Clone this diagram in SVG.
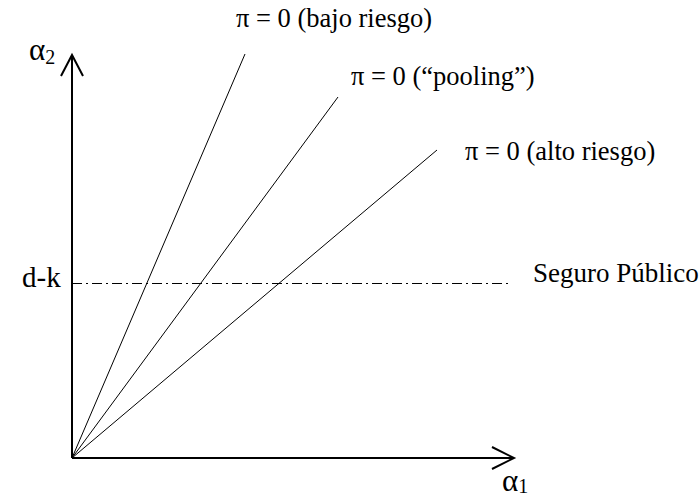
<svg xmlns="http://www.w3.org/2000/svg" width="699" height="498" viewBox="0 0 699 498">
<style>
.t{font-family:"Liberation Serif","Times New Roman",serif;font-size:26.5px;fill:#000}
.a{font-size:31px}
.s{font-size:20px}
.ax{stroke:#000;stroke-width:2;fill:none}
.ln{stroke:#000;stroke-width:1;fill:none}
.dd{stroke:#000;stroke-width:1;fill:none;stroke-dasharray:10 4 2 4}
</style>
<rect width="699" height="498" fill="#fff"/>
<g id="axes">
<line class="ax" x1="72" y1="458" x2="72" y2="55"/>
<line class="ax" x1="72" y1="458" x2="514" y2="458"/>
<polyline class="ax" points="61,76 72,55 83,76"/>
<polyline class="ax" points="492,447 514,458 492,469"/>
<text class="t a" x="29" y="60">α<tspan class="s" dy="4">2</tspan></text>
<text class="t a" x="502" y="491">α<tspan class="s" dy="2">1</tspan></text>
</g>
<g id="connectors">
<line class="ln" x1="72" y1="458" x2="245" y2="54"/>
<line class="ln" x1="72" y1="458" x2="338" y2="97"/>
<line class="ln" x1="72" y1="458" x2="437" y2="150"/>
<line class="dd" x1="72" y1="283.5" x2="510" y2="283.5"/>
</g>
<g id="bajo"><text class="t" x="236" y="27">π = 0 (bajo riesgo)</text></g>
<g id="pooling"><text class="t" x="351" y="85">π = 0 (“pooling”)</text></g>
<g id="alto"><text class="t" x="465" y="160">π = 0 (alto riesgo)</text></g>
<g id="dk"><text class="t" x="22" y="287" style="font-size:29px">d-k</text></g>
<g id="seguro"><text class="t" x="533" y="282" style="font-size:27px">Seguro Público</text></g>
</svg>
